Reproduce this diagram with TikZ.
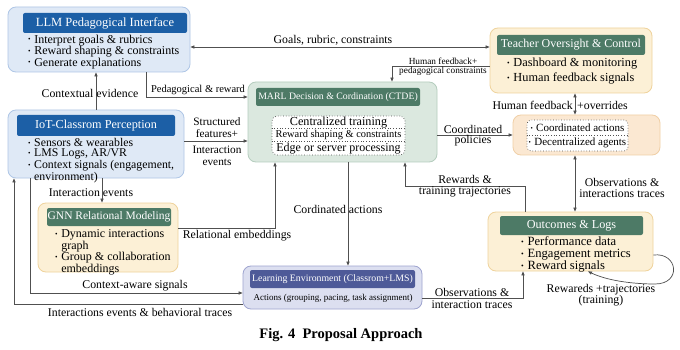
\documentclass[tikz,border=0pt]{standalone}
\usepackage{fontspec}
\setmainfont{Liberation Serif}
\usetikzlibrary{arrows.meta}
\definecolor{bluehdr}{HTML}{1C5FA6}
\definecolor{bluefill}{HTML}{DFE9F6}
\definecolor{blueborder}{HTML}{AFC6E6}
\definecolor{greenhdr}{HTML}{4D7A66}
\definecolor{greenfill}{HTML}{DBE8DF}
\definecolor{greenborder}{HTML}{B5CDBE}
\definecolor{creamfill}{HTML}{FCF0D6}
\definecolor{creamborder}{HTML}{EFD39C}
\definecolor{peachfill}{HTML}{FBE8D2}
\definecolor{peachborder}{HTML}{F0CFA6}
\definecolor{lavfill}{HTML}{DCDFF0}
\definecolor{lavborder}{HTML}{9EA4CF}
\definecolor{lavhdr}{HTML}{4E5A98}
\definecolor{linec}{HTML}{505050}
\newcommand{\bul}{\raisebox{0.2ex}{\scalebox{0.6}{\textbullet}}\hspace{0.3em}}
\newcommand{\fs}[2]{\fontsize{#1}{#2}\selectfont}
\begin{document}
\begin{tikzpicture}[x=1pt,y=-1pt,
  box/.style={draw, rounded corners=8pt, line width=0.8pt, inner sep=0pt},
  hdr/.style={rounded corners=2pt, text=white, inner sep=0pt},
  btxt/.style={align=left, inner sep=0pt, anchor=north west},
  lbl/.style={font=\fs{11.8}{12}, align=center, inner sep=0pt},
  slbl/.style={font=\fs{9.3}{10}, align=center, inner sep=0pt},
  arr/.style={draw=linec, line width=0.7pt, -{Triangle[length=4pt,width=3.2pt]}},
  darr/.style={draw=linec, line width=0.7pt, {Triangle[length=4pt,width=3.2pt]}-{Triangle[length=4pt,width=3.2pt]}},
  dot/.style={draw=linec, dotted, line width=0.7pt}
]
\fill[white] (0,0) rectangle (680,350);
\useasboundingbox (0,0) rectangle (680,350);

% ---------- LLM ----------
\node[box, fill=bluefill, draw=blueborder, minimum width=182pt, minimum height=65pt] (llm) at (99,39.5) {};
\node[hdr, fill=bluehdr, minimum width=164pt, minimum height=20pt, font=\fs{12.5}{13}] (llmh) at (105,23) {LLM Pedagogical Interface};
\node[btxt, font=\fs{12}{11.5}] (llmt) at (28,34.5) {\bul Interpret goals \& rubrics\\\bul Reward shaping \& constraints\\\bul Generate explanations};

% ---------- IoT ----------
\node[box, fill=bluefill, draw=blueborder, minimum width=176pt, minimum height=68pt] (iot) at (96,144) {};
\node[hdr, fill=bluehdr, minimum width=158pt, minimum height=21pt, font=\fs{12.2}{13}] (ioth) at (96,125.5) {IoT-Classrom Perception};
\node[btxt, font=\fs{11.8}{10.5}] (iott) at (28,138) {\bul Sensors \& wearables\\\bul LMS Logs, AR/VR\\\bul Context signals (engagement,\\\hphantom{\bul}environment)};

% ---------- GNN ----------
\node[box, fill=creamfill, draw=creamborder, minimum width=140pt, minimum height=69pt] (gnn) at (108,237.5) {};
\node[hdr, fill=greenhdr, minimum width=124pt, minimum height=18pt, font=\fs{11.5}{12}] (gnnh) at (109,217) {GNN Relational Modeling};
\node[btxt, font=\fs{12}{10}] (gnnt) at (55,229) {\bul Dynamic interactions\\\hphantom{\bul}graph\\\bul Group \& collaboration\\\hphantom{\bul}embeddings};

% ---------- MARL ----------
\node[box, fill=greenfill, draw=greenborder, minimum width=189pt, minimum height=80pt] (marl) at (342.5,122) {};
\node[hdr, fill=greenhdr, minimum width=164pt, minimum height=18pt, font=\fs{9.8}{10}] (marlh) at (338,97) {MARL Decision \& Cordination (CTDE)};
\node[draw=linec, dotted, line width=0.7pt, fill=white, rounded corners=5pt, minimum width=133pt, minimum height=39pt] (marli) at (338.5,135.5) {};
\draw[dot] (marli.west |- 0,128.5) -- (marli.east |- 0,128.5);
\draw[dot] (marli.west |- 0,141.5) -- (marli.east |- 0,141.5);
\node[inner sep=0pt, font=\fs{12.2}{12}] (m1) at (338.5,122.3) {Centralized training};
\node[inner sep=0pt, font=\fs{10.4}{10}] (m2) at (338.5,135) {Reward shaping \& constraints};
\node[inner sep=0pt, font=\fs{12}{12}] (m3) at (338.5,148.3) {Edge or server processing};

% ---------- Teacher ----------
\node[box, fill=creamfill, draw=creamborder, minimum width=162pt, minimum height=65pt] (teacher) at (571,60.5) {};
\node[hdr, fill=greenhdr, minimum width=148pt, minimum height=20pt, font=\fs{12}{12}] (teacherh) at (571,45) {Teacher Oversight \& Control};
\node[btxt, font=\fs{12.3}{15}] (teachert) at (507,57.5) {\bul Dashboard \& monitoring\\\bul Human feedback signals};

% ---------- Coordinated ----------
\node[box, fill=peachfill, draw=peachborder, minimum width=147pt, minimum height=40pt] (coord) at (586.5,135) {};
\node[draw=linec, dotted, line width=0.7pt, fill=white, rounded corners=4pt, minimum width=101pt, minimum height=31pt] (coordi) at (577.5,135.5) {};
\draw[dot] (coordi.west) -- (coordi.east);
\node[inner sep=0pt, font=\fs{11}{11}] (c1) at (577.5,128) {\bul Coordinated actions};
\node[inner sep=0pt, font=\fs{11}{11}] (c2) at (577.5,143) {\bul Decentralized agents};

% ---------- Outcomes ----------
\node[box, fill=creamfill, draw=creamborder, minimum width=165pt, minimum height=59pt] (outc) at (570.5,241.5) {};
\node[hdr, fill=greenhdr, minimum width=143pt, minimum height=19pt, font=\fs{12.2}{12}] (outch) at (571.5,225.5) {Outcomes \& Logs};
\node[btxt, font=\fs{12.6}{12}] (outct) at (521,236.5) {\bul Performance data\\\bul Engagement metrics\\\bul Reward signals};

% ---------- Learning environment ----------
\node[box, fill=lavfill, draw=lavborder, minimum width=179pt, minimum height=43pt] (learn) at (332.5,287.5) {};
\node[hdr, fill=lavhdr, minimum width=165pt, minimum height=18pt, font=\fs{9.8}{10}] (learnh) at (332.5,279) {Learning Environment (Classrom+LMS)};
\node[inner sep=0pt, font=\fs{9}{9}] (learnt) at (333,298.5) {Actions (grouping, pacing, task assignment)};

% ---------- caption ----------
\node[inner sep=0pt, font=\bfseries\fs{14.5}{15}] (cap) at (341,335) {Fig. 4\ \ Proposal Approach};

% ---------- routing coordinates ----------
\coordinate (ga) at (0,47);
\coordinate (hf) at (392,66);
\coordinate (pr) at (146,97);
\coordinate (ce) at (96,93);
\coordinate (sf) at (0,141);
\coordinate (re) at (275,228);
\coordinate (ie) at (102,0);
\coordinate (ca) at (30,293);
\coordinate (bt) at (14,304);
\coordinate (cact) at (348,0);
\coordinate (cp) at (0,135);
\coordinate (ho) at (575,0);
\coordinate (rt) at (525,186);
\coordinate (rt2) at (405,186);
\coordinate (oi) at (523,298);
\coordinate (lp1) at ([yshift=-13.5pt]outc.east);
\coordinate (lp2) at ([xshift=17.5pt]outc.south);

% ---------- connectors ----------
\draw[darr] (teacher.west |- ga) -- (llm.east |- ga);
\node[lbl] (lga) at (333,40) {Goals, rubric, constraints};

\draw[arr] (teacher.west |- hf) -- (hf) -- (hf |- marl.north);
\node[slbl] (lhf1) at (443,61) {Human feedback+};
\node[slbl] (lhf2) at (443,71.5) {pedagogical constraints};

\draw[arr] (pr |- llm.south) |- (marl.west |- pr);
\node[lbl, font=\fs{10.5}{10}] (lpr) at (198,90) {Pedagogical \& reward};

\draw[arr] (ce |- iot.north) -- (ce |- llm.south);
\node[lbl] (lce) at (90,93) {Contextual evidence};

\draw[arr] (iot.east |- sf) -- (marl.west |- sf);
\node[lbl, font=\fs{11.3}{11.5}] (lsf1) at (217,127.5) {Structured\\features+};
\node[lbl, font=\fs{11.3}{11.5}] (lsf2) at (217,156) {Interaction\\events};

\draw[arr] (gnn.east |- re) -| (re |- marl.south);
\node[lbl] (lre) at (237,236) {Relational embeddings};

\draw[arr] (ie |- iot.south) -- (ie |- gnn.north);
\node[lbl] (lie) at (91,193) {Interaction events};

\draw[arr] (ca |- iot.south) |- (learn.west |- ca);
\node[lbl] (lca) at (135,286) {Context-aware signals};

\draw[arr] (learn.west |- bt) -| (bt |- iot.south);
\node[lbl] (lbt) at (140,312.5) {Interactions events \& behavioral traces};

\draw[arr] (cact |- marl.south) -- (cact |- learn.north);
\node[lbl] (lcact) at (338,209) {Cordinated actions};

\draw[arr] (marl.east |- cp) -- (coord.west |- cp);
\node[lbl] (lcp1) at (473,129) {Coordinated};
\node[lbl] (lcp2) at (473,141) {policies};

\draw[darr] (ho |- teacher.south) -- (ho |- coord.north);
\node[lbl, anchor=east] (lho1) at (573,105) {Human feedback};
\node[lbl, anchor=west] (lho2) at (577,105) {+overrides};

\draw[darr] (ho |- coord.south) -- (ho |- outc.north);
\node[lbl, font=\fs{11.8}{11}] (lot) at (622,188) {Observations \&\\interactions traces};

\draw[arr] (rt |- outc.north) -- (rt) -- (rt2) -- (rt2 |- marl.south);
\node[lbl] (lrt1) at (465,179.5) {Rewards \&};
\node[lbl] (lrt2) at (465,192) {training trajectories};

\draw[arr] (learn.east |- oi) -| (oi |- outc.south);
\node[lbl] (loi1) at (472,292) {Observations \&};
\node[lbl] (loi2) at (472,304.5) {interaction traces};

\draw[arr] (lp1) .. controls (678,252) and (682,284) .. (655,284) .. controls (630,284) and (606,280) .. (lp2);
\node[lbl, font=\fs{11.8}{11}] (llp) at (601,295) {Rewareds +trajectories\\(training)};
\end{tikzpicture}
\end{document}
